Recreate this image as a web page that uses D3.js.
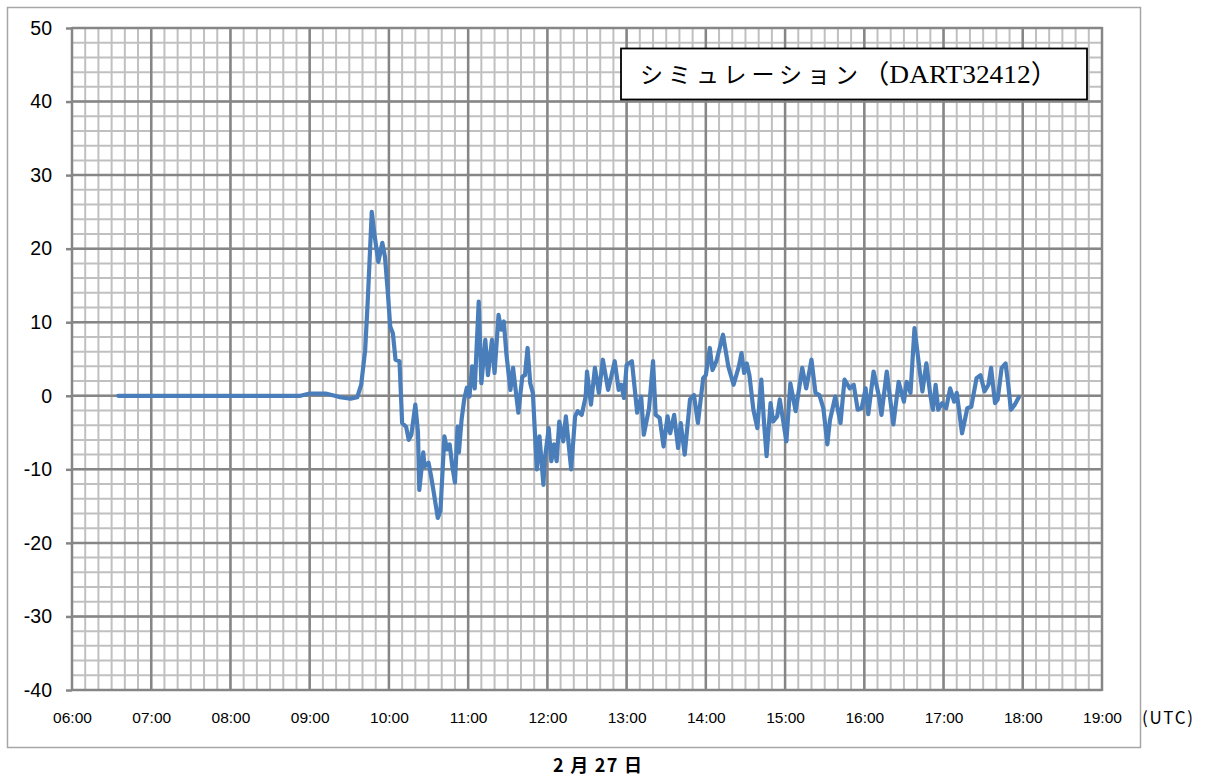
<!DOCTYPE html>
<html>
<head>
	<meta charset="utf-8">
	<style>
		body { margin: 0; background: #fff; }
		svg { display: block; }
	</style>
</head>
<body>

	<div id="graph"></div>

	<script src="https://cdnjs.cloudflare.com/ajax/libs/d3/7.8.5/d3.min.js"></script>

	<script>
		// readings (UTC, 2/27) and simulated level
		const times = [
			'06:35','08:53','09:00','09:12','09:19','09:23','09:31','09:36','09:39','09:42',
			'09:44','09:47','09:49','09:52','09:55','09:57','09:59','10:01','10:03','10:05',
			'10:08','10:10','10:13','10:15','10:17','10:20','10:22','10:23','10:26','10:27',
			'10:30','10:32','10:34','10:37','10:39','10:40','10:42','10:44','10:46','10:48',
			'10:50','10:52','10:53','10:55','10:57','10:59','11:01','11:03','11:05','11:08',
			'11:10','11:13','11:15','11:18','11:20','11:23','11:25','11:27','11:29','11:32',
			'11:34','11:38','11:41','11:43','11:45','11:47','11:49','11:52','11:54','11:57',
			'11:58','12:01','12:03','12:05','12:07','12:09','12:12','12:14','12:18','12:21',
			'12:23','12:26','12:29','12:30','12:33','12:36','12:39','12:42','12:46','12:51',
			'12:54','12:56','12:58','13:00','13:04','13:08','13:11','13:13','13:17','13:20',
			'13:22','13:25','13:28','13:31','13:33','13:36','13:39','13:41','13:44','13:48',
			'13:51','13:54','13:58','14:00','14:03','14:05','14:08','14:13','14:17','14:21',
			'14:25','14:27','14:29','14:31','14:33','14:36','14:39','14:42','14:44','14:46',
			'14:49','14:51','14:54','14:56','15:01','15:04','15:08','15:13','15:16','15:20',
			'15:23','15:26','15:29','15:32','15:34','15:38','15:42','15:45','15:49','15:52',
			'15:55','15:58','16:01','16:03','16:07','16:11','16:13','16:17','16:22','16:26',
			'16:30','16:32','16:35','16:38','16:42','16:44','16:47','16:50','16:52','16:54',
			'16:56','16:59','17:02','17:05','17:08','17:10','17:14','17:18','17:21','17:25',
			'17:28','17:31','17:34','17:36','17:39','17:41','17:44','17:47','17:49','17:51',
			'17:54','17:57'
		];

		const levels = [
			0, 0, 0.3, 0.3, 0, -0.2, -0.4, -0.2, 1.5, 6.2,
			13, 25, 22, 18.2, 20.8, 18.9, 14.4, 9.4, 8.5, 4.9,
			4.7, -3.7, -4.2, -6, -5.3, -1.2, -5, -12.8, -7.7, -9.6,
			-9.1, -11, -13.2, -16.6, -15.7, -12.3, -5.5, -7.3, -6.6, -9.6,
			-11.8, -4.2, -7.7, -3.3, -0.5, 1.1, -0.1, 4, 1, 12.8,
			1.7, 7.6, 2.8, 7.6, 3.1, 11, 9, 10.1, 5.6, 0.8,
			3.8, -2.3, 2.6, 2.8, 6.5, 1.7, 0.4, -10, -5.5, -12.1,
			-8.7, -4.4, -8.9, -6.6, -8.9, -3.5, -6.2, -2.8, -10, -2.8,
			-2.1, -2.6, -0.1, 3.3, -1.2, 3.8, 0.4, 4.9, 0.8, 4.7,
			0.8, 1.5, -0.3, 4.2, 4.7, -2.3, -0.1, -5.3, -1.7, 4.7,
			-2.6, -3, -6.9, -2.8, -5.1, -2.6, -7.1, -3.7, -8, -0.5,
			0.1, -3.7, 2.4, 2.8, 6.5, 3.5, 4.7, 8.3, 4, 1.5,
			4, 5.8, 3.1, 4.4, 2.8, -1.9, -4.4, 2.2, -3.5, -8.2,
			-1, -3.5, -2.8, -0.5, -6.2, 1.7, -2.1, 3.8, 1, 4.9,
			0.4, 0.1, -1.7, -6.6, -3.3, -0.1, -3.7, 2.2, 1, 1.5,
			-1.9, -1.7, 1, -2.5, 3.3, 0, -2.6, 3.3, -3.9, 1.9,
			-0.8, 1.9, 0.4, 9.2, 3.3, 0.6, 4.4, 0.1, -1.9, 1.5,
			-1.9, -1, -1.7, 1, -0.8, 0.4, -5.1, -1.7, -1.5, 2.4,
			2.8, 0.6, 1.5, 3.8, -1, -0.5, 3.8, 4.4, 1.5, -1.9,
			-1.2, -0.2
		];

		const yTicks = [-40, -30, -20, -10, 0, 10, 20, 30, 40, 50];
		const xTickLabels = ['06:00','07:00','08:00','09:00','10:00','11:00','12:00',
			'13:00','14:00','15:00','16:00','17:00','18:00','19:00'];

		const titleKana = 'シミュレーション';
		const titleCode = '（DART32412）';
		const unitText = '(UTC)';
		const dateText = '2 月 27 日';

		const W = 1205;
		const H = 776;
		const plot = { left: 72, right: 1102, top: 28, bottom: 690 };

		const parseTime = d3.timeParse('%H:%M');
		const data = times.map((t, i) => ({ t: parseTime(t), v: levels[i] }));

		const x = d3.scaleTime()
			.domain([parseTime(xTickLabels[0]), parseTime(xTickLabels[xTickLabels.length - 1])])
			.range([plot.left, plot.right]);

		const y = d3.scaleLinear()
			.domain([-40, 50])
			.range([plot.bottom, plot.top]);

		const svg = d3.select('#graph')
			.append('svg')
			.attr('width', W)
			.attr('height', H);

		// outer chart frame
		svg.append('rect')
			.attr('x', 7.5).attr('y', 7.5)
			.attr('width', 1133).attr('height', 740)
			.attr('fill', '#fff')
			.attr('stroke', '#a6a6a6')
			.attr('stroke-width', 1.5);

		// minor grid
		const minorX = x.ticks(d3.timeMinute.every(10));
		const minorY = d3.range(-40, 51, 2);

		svg.append('g')
			.selectAll('line')
			.data(minorX)
			.join('line')
			.attr('x1', d => x(d)).attr('x2', d => x(d))
			.attr('y1', plot.top).attr('y2', plot.bottom)
			.attr('stroke', '#c0c0c0')
			.attr('stroke-width', 2);

		svg.append('g')
			.selectAll('line')
			.data(minorY)
			.join('line')
			.attr('x1', plot.left).attr('x2', plot.right)
			.attr('y1', d => y(d)).attr('y2', d => y(d))
			.attr('stroke', '#c0c0c0')
			.attr('stroke-width', 2);

		// major grid
		const majorX = xTickLabels.map(parseTime);

		svg.append('g')
			.selectAll('line')
			.data(majorX)
			.join('line')
			.attr('x1', d => x(d)).attr('x2', d => x(d))
			.attr('y1', plot.top - 1).attr('y2', plot.bottom + 1)
			.attr('stroke', '#868686')
			.attr('stroke-width', 2.5);

		svg.append('g')
			.selectAll('line')
			.data(yTicks)
			.join('line')
			.attr('x1', plot.left).attr('x2', plot.right)
			.attr('y1', d => y(d)).attr('y2', d => y(d))
			.attr('stroke', '#868686')
			.attr('stroke-width', 2.5);

		// axes
		const yAxis = d3.axisLeft(y)
			.tickValues(yTicks)
			.tickFormat(d => String(d))
			.tickSize(6)
			.tickPadding(14);

		const gy = svg.append('g')
			.attr('transform', `translate(${plot.left}, 0)`)
			.call(yAxis);
		gy.select('.domain').remove();
		gy.selectAll('.tick line').attr('stroke', '#868686').attr('stroke-width', 2.5);
		gy.selectAll('.tick text')
			.attr('fill', '#000')
			.style('font-family', 'Arial, "Liberation Sans", sans-serif')
			.style('font-size', '19.5px');

		const xAxis = d3.axisBottom(x)
			.tickValues(majorX)
			.tickFormat(d3.timeFormat('%H:%M'))
			.tickSize(0)
			.tickPadding(22);

		const gx = svg.append('g')
			.attr('transform', `translate(0, ${plot.bottom})`)
			.call(xAxis);
		gx.select('.domain').remove();
		gx.selectAll('.tick text')
			.attr('fill', '#000')
			.style('font-family', 'Arial, "Liberation Sans", sans-serif')
			.style('font-size', '15.5px');

		// series
		const line = d3.line()
			.x(d => x(d.t))
			.y(d => y(d.v));

		svg.append('path')
			.attr('d', line(data))
			.attr('fill', 'none')
			.attr('stroke', '#4a7ebb')
			.attr('stroke-width', 4.2)
			.attr('stroke-linejoin', 'round')
			.attr('stroke-linecap', 'round');

		// title box
		svg.append('rect')
			.attr('x', 621).attr('y', 48.5)
			.attr('width', 466).attr('height', 51)
			.attr('fill', '#fff')
			.attr('stroke', '#000')
			.attr('stroke-width', 1.8);

		const title = svg.append('text')
			.attr('y', 83)
			.style('font-family', '"Liberation Serif", "DejaVu Serif", "Noto Sans CJK JP", serif');

		title.append('tspan')
			.attr('x', 640)
			.attr('textLength', 218)
			.attr('lengthAdjust', 'spacing')
			.style('font-size', '23px')
			.text(titleKana);

		title.append('tspan')
			.attr('x', 862)
			.attr('textLength', 196)
			.attr('lengthAdjust', 'spacingAndGlyphs')
			.style('font-size', '26px')
			.text(titleCode);

		svg.append('text')
			.attr('x', 1142).attr('y', 724)
			.attr('textLength', 51)
			.attr('lengthAdjust', 'spacing')
			.style('font-family', '"Noto Sans CJK JP", sans-serif')
			.style('font-size', '17px')
			.text(unitText);

		svg.append('text')
			.attr('x', 553).attr('y', 772)
			.attr('textLength', 89)
			.attr('lengthAdjust', 'spacing')
			.style('font-family', '"Noto Sans CJK JP", sans-serif')
			.style('font-size', '18px')
			.style('font-weight', 'bold')
			.text(dateText);

	</script>

</body>
</html>
